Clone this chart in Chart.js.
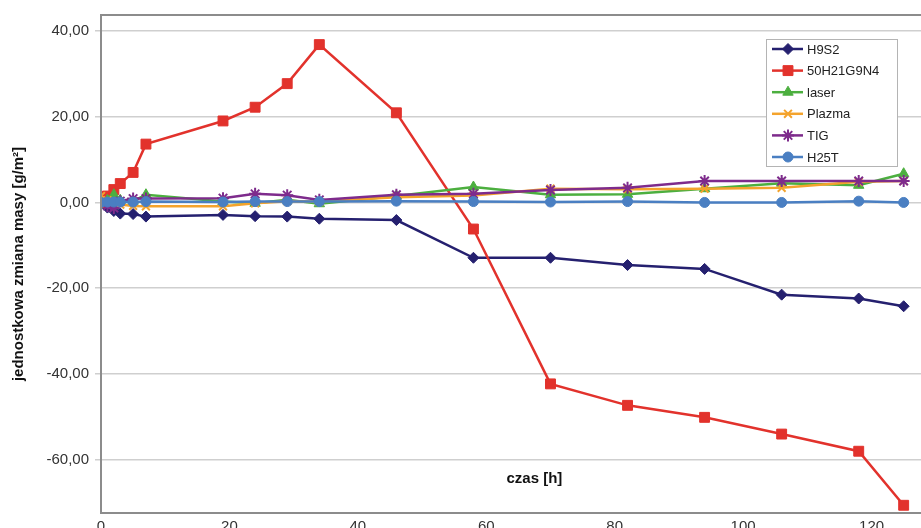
<!DOCTYPE html>
<html>
<head>
<meta charset="utf-8">
<script src="https://cdn.jsdelivr.net/npm/chart.js@4"></script>
<style>
  html, body { margin: 0; padding: 0; background: #fff; overflow: hidden; }
  #wrap { width: 921px; height: 528px; position: relative; }
</style>
</head>
<body>
<div id="wrap"><canvas id="wykres"></canvas></div>
<script>
// czas pomiaru [h]
const hours = [0, 1, 2, 3, 5, 7, 19, 24, 29, 34, 46, 58, 70, 82, 94, 106, 118, 125];

// jednostkowa zmiana masy [g/m2]
const h9s2    = [0, -1.2, -2.0, -2.6, -2.7, -3.3, -2.9, -3.2, -3.3, -3.8, -4.1, -12.9, -12.9, -14.6, -15.5, -21.5, -22.4, -24.2];
const h21g9n4 = [0, 1.5, 3.0, 4.4, 7.0, 13.6, 19.0, 22.2, 27.7, 36.8, 20.9, -6.2, -42.3, -47.3, -50.1, -54.0, -58.0, -70.6];
const laser   = [0, 0.5, 1.8, 0.5, 0.3, 1.8, 0.2, -0.2, 0.6, -0.3, 1.5, 3.6, 1.8, 1.9, 3.2, 4.5, 4.0, 6.7];
const plazma  = [1.5, 0.5, 0, -0.5, -0.8, -0.9, -0.9, -0.2, 0.3, 0.2, 1.2, 1.6, 3.2, 3.1, 3.2, 3.4, 4.8, 5.0];
const tig     = [0, -0.8, -1.3, 0.3, 0.9, 0.9, 1.0, 2.0, 1.7, 0.6, 1.8, 2.0, 2.9, 3.4, 5.0, 5.0, 5.0, 5.0];
const h25t    = [0, 0.1, 0.1, 0.1, 0.1, 0.2, 0.1, 0.2, 0.2, 0.2, 0.3, 0.2, 0.1, 0.2, 0.0, 0.0, 0.3, 0.0];

const seriesNames = ['H9S2', '50H21G9N4', 'laser', 'Plazma', 'TIG', 'H25T'];
const xTicks = [0, 20, 40, 60, 80, 100, 120];
const yTicks = [-60, -40, -20, 0, 20, 40];

const FONT = "'Liberation Sans', Arial, sans-serif";

function pts(vals) {
    return vals.map(function (v, i) { return { x: hours[i], y: v }; });
}

function seria(i, vals, color, style, radius) {
    return {
        label: seriesNames[i],
        data: pts(vals),
        borderColor: color,
        backgroundColor: color,
        pointBackgroundColor: color,
        pointBorderColor: color,
        pointStyle: style,
        pointRadius: radius,
        pointBorderWidth: (style === 'crossRot' || style === 'star') ? 2 : 1,
        borderWidth: 2.5,
        tension: 0,
        order: 6 - i
    };
}

const datasets = [
    seria(0, h9s2, '#25206f', 'rectRot', 5.5),
    seria(1, h21g9n4, '#e2322c', 'rect', 7),
    seria(2, laser, '#4caf3f', 'triangle', 6),
    seria(3, plazma, '#f4a32c', 'crossRot', 5.5),
    seria(4, tig, '#7e2b8c', 'star', 6),
    seria(5, h25t, '#4a7fc2', 'circle', 5)
];

function rysujZnak(ctx, ds, x, y) {
    const opt = {
        pointStyle: ds.pointStyle,
        radius: ds.pointRadius,
        rotation: 0,
        borderWidth: ds.pointBorderWidth
    };
    ctx.fillStyle = ds.backgroundColor;
    ctx.strokeStyle = ds.borderColor;
    ctx.lineWidth = ds.pointBorderWidth;
    Chart.helpers.drawPoint(ctx, opt, x, y);
}

const ramkaIlegenda = {
    id: 'ramkaIlegenda',
    afterDraw: function (chart) {
        const ctx = chart.ctx;
        const a = chart.chartArea;
        const xs = chart.scales.x, ys = chart.scales.y;
        ctx.save();

        // ramka wykresu
        ctx.strokeStyle = '#8c8c8c';
        ctx.lineWidth = 2;
        ctx.beginPath();
        ctx.moveTo(a.right, a.top);
        ctx.lineTo(a.left, a.top);
        ctx.lineTo(a.left, a.bottom);
        ctx.lineTo(a.right, a.bottom);
        ctx.stroke();

        // etykiety osi x (obciete dolna krawedzia, jak w oryginale)
        ctx.fillStyle = '#333';
        ctx.font = '15px ' + FONT;
        ctx.textAlign = 'center';
        ctx.textBaseline = 'middle';
        xTicks.forEach(function (v) {
            ctx.fillText(String(v), xs.getPixelForValue(v), a.bottom + 14);
        });

        // tytul osi x wewnatrz wykresu
        ctx.fillStyle = '#111';
        ctx.font = 'bold 15px ' + FONT;
        ctx.fillText('czas [h]', xs.getPixelForValue(67.5), ys.getPixelForValue(-64.5));

        // legenda
        const bx = a.right - 155, by = a.top + 24, bw = 131, bh = 127;
        ctx.fillStyle = '#fff';
        ctx.fillRect(bx, by, bw, bh);
        ctx.strokeStyle = '#b4b4b4';
        ctx.lineWidth = 1;
        ctx.strokeRect(bx + 0.5, by + 0.5, bw, bh);

        ctx.font = '13px ' + FONT;
        ctx.textAlign = 'left';
        datasets.forEach(function (ds, i) {
            const cy = by + 10 + i * 21.6;
            ctx.strokeStyle = ds.borderColor;
            ctx.lineWidth = 2.5;
            ctx.beginPath();
            ctx.moveTo(bx + 6, cy);
            ctx.lineTo(bx + 37, cy);
            ctx.stroke();
            rysujZnak(ctx, ds, bx + 22, cy);
            ctx.fillStyle = '#222';
            ctx.fillText(ds.label, bx + 41, cy + 1);
        });
        ctx.restore();
    }
};

new Chart(document.getElementById('wykres'), {
    type: 'line',
    data: { datasets: datasets },
    plugins: [ramkaIlegenda],
    options: {
        responsive: true,
        maintainAspectRatio: false,
        animation: false,
        devicePixelRatio: 1,
        layout: { autoPadding: false, padding: { top: 12, right: 0, left: 0, bottom: 0 } },
        plugins: {
            legend: { display: false },
            tooltip: { enabled: false }
        },
        scales: {
            x: {
                type: 'linear',
                min: 0,
                max: 127.7,
                afterBuildTicks: function (scale) {
                    scale.ticks = xTicks.map(function (v) { return { value: v }; });
                },
                afterFit: function (scale) { scale.height = 14; },
                grid: { display: false },
                border: { display: false },
                ticks: { display: false }
            },
            y: {
                min: -72.4,
                max: 43.7,
                afterBuildTicks: function (scale) {
                    scale.ticks = yTicks.map(function (v) { return { value: v }; });
                },
                afterFit: function (scale) { scale.width = 101; },
                grid: {
                    color: '#cfcfcf',
                    lineWidth: 1.5,
                    tickLength: 6
                },
                border: { display: false },
                ticks: {
                    padding: 6,
                    color: '#333',
                    font: { family: FONT, size: 15 },
                    callback: function (v) { return v.toFixed(2).replace('.', ','); }
                },
                title: {
                    display: true,
                    text: 'jednostkowa zmiana masy [g/m²]',
                    color: '#111',
                    padding: { top: 10, bottom: 0 },
                    font: { family: FONT, size: 15, weight: 'bold' }
                }
            }
        }
    }
});
</script>
</body>
</html>
